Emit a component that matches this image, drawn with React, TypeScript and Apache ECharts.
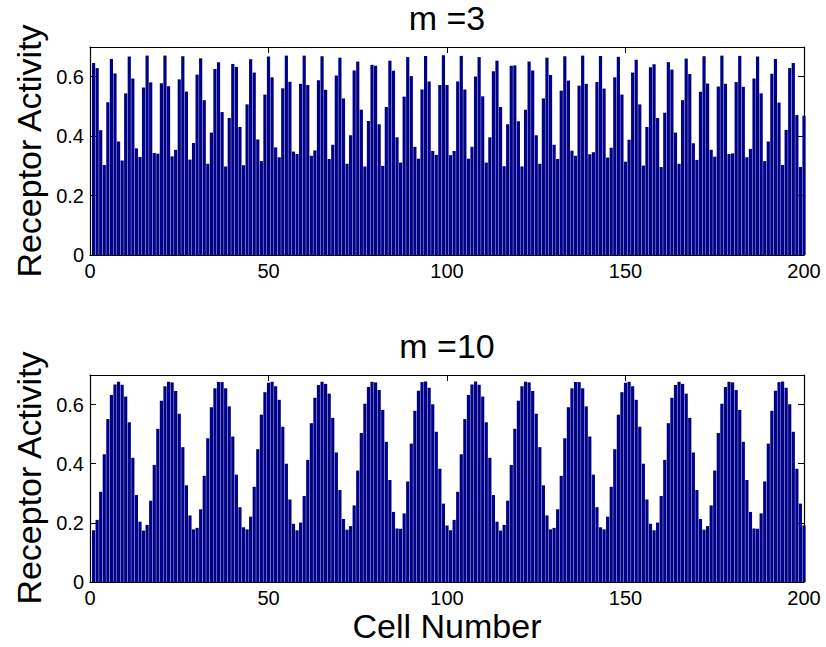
import React, { useEffect, useRef } from "react";
import * as echarts from "echarts";

// Receptor activity per cell, m = 3 (cells 1..200)
const activityM3: number[] = [
  0.646, 0.629, 0.42, 0.303, 0.514, 0.66, 0.611, 0.382, 0.318, 0.544,
  0.668, 0.594, 0.359, 0.33, 0.564, 0.671, 0.581, 0.343, 0.341, 0.578,
  0.671, 0.568, 0.332, 0.354, 0.591, 0.669, 0.55, 0.321, 0.377, 0.607,
  0.662, 0.521, 0.307, 0.412, 0.626, 0.649, 0.481, 0.298, 0.461, 0.643,
  0.633, 0.431, 0.302, 0.507, 0.659, 0.614, 0.389, 0.316, 0.54, 0.668,
  0.598, 0.362, 0.329, 0.561, 0.671, 0.583, 0.348, 0.34, 0.576, 0.671,
  0.572, 0.334, 0.352, 0.588, 0.669, 0.556, 0.323, 0.371, 0.604, 0.664,
  0.527, 0.307, 0.403, 0.621, 0.651, 0.489, 0.298, 0.451, 0.64, 0.637,
  0.44, 0.3, 0.498, 0.654, 0.62, 0.396, 0.311, 0.533, 0.666, 0.602,
  0.364, 0.324, 0.557, 0.67, 0.584, 0.35, 0.337, 0.572, 0.672, 0.572,
  0.336, 0.35, 0.584, 0.67, 0.557, 0.324, 0.364, 0.601, 0.666, 0.534,
  0.311, 0.396, 0.618, 0.654, 0.498, 0.299, 0.44, 0.637, 0.638, 0.45,
  0.298, 0.489, 0.651, 0.621, 0.403, 0.307, 0.527, 0.664, 0.606, 0.371,
  0.323, 0.553, 0.669, 0.587, 0.351, 0.334, 0.57, 0.671, 0.576, 0.339,
  0.346, 0.582, 0.67, 0.56, 0.328, 0.361, 0.598, 0.667, 0.54, 0.314,
  0.388, 0.614, 0.657, 0.507, 0.301, 0.431, 0.632, 0.642, 0.461, 0.296,
  0.479, 0.649, 0.624, 0.412, 0.307, 0.521, 0.661, 0.609, 0.376, 0.32,
  0.549, 0.669, 0.577, 0.354, 0.331, 0.567, 0.671, 0.576, 0.34, 0.342,
  0.582, 0.67, 0.566, 0.329, 0.357, 0.594, 0.668, 0.544, 0.316, 0.382,
  0.61, 0.66, 0.513, 0.303, 0.421, 0.629, 0.646, 0.471, 0.296, 0.469,
];

// Receptor activity per cell, m = 10 (cells 1..200)
const activityM10: number[] = [
  0.175, 0.21, 0.305, 0.432, 0.551, 0.632, 0.668, 0.677, 0.667, 0.627,
  0.54, 0.42, 0.294, 0.204, 0.174, 0.193, 0.275, 0.396, 0.518, 0.613,
  0.662, 0.677, 0.675, 0.646, 0.569, 0.456, 0.327, 0.225, 0.178, 0.183,
  0.246, 0.359, 0.486, 0.591, 0.655, 0.676, 0.676, 0.655, 0.594, 0.492,
  0.363, 0.253, 0.185, 0.178, 0.221, 0.322, 0.449, 0.566, 0.642, 0.674,
  0.677, 0.662, 0.616, 0.525, 0.4, 0.279, 0.197, 0.175, 0.201, 0.291,
  0.413, 0.537, 0.623, 0.666, 0.677, 0.67, 0.637, 0.555, 0.438, 0.311,
  0.213, 0.177, 0.189, 0.259, 0.377, 0.504, 0.603, 0.659, 0.677, 0.675,
  0.649, 0.582, 0.474, 0.345, 0.237, 0.181, 0.18, 0.232, 0.34, 0.468,
  0.579, 0.647, 0.676, 0.678, 0.657, 0.601, 0.508, 0.383, 0.265, 0.191,
  0.175, 0.21, 0.305, 0.432, 0.551, 0.632, 0.668, 0.678, 0.667, 0.627,
  0.54, 0.42, 0.294, 0.204, 0.174, 0.193, 0.275, 0.396, 0.518, 0.613,
  0.662, 0.677, 0.675, 0.646, 0.569, 0.456, 0.327, 0.225, 0.178, 0.183,
  0.246, 0.359, 0.486, 0.591, 0.655, 0.676, 0.676, 0.655, 0.594, 0.492,
  0.363, 0.253, 0.185, 0.178, 0.221, 0.322, 0.449, 0.566, 0.642, 0.674,
  0.677, 0.662, 0.616, 0.525, 0.4, 0.279, 0.197, 0.175, 0.201, 0.291,
  0.413, 0.537, 0.623, 0.666, 0.677, 0.67, 0.637, 0.555, 0.438, 0.311,
  0.213, 0.177, 0.189, 0.259, 0.377, 0.504, 0.603, 0.659, 0.677, 0.675,
  0.649, 0.582, 0.474, 0.345, 0.237, 0.181, 0.18, 0.232, 0.34, 0.468,
  0.579, 0.647, 0.676, 0.678, 0.657, 0.601, 0.508, 0.383, 0.265, 0.191,
];

const titles = ["m =3", "m =10"];
const yLabel = "Receptor Activity";
const xLabel = "Cell Number";
const xTicks = { min: 0, max: 200, interval: 50 };
const yTicks = { min: 0, max: 0.7, interval: 0.2 };

const FONT = "'Liberation Sans', Arial, Helvetica, sans-serif";
const BAR = "#000088";

export default function App() {
  const ref = useRef<HTMLDivElement>(null);

  useEffect(() => {
    if (!ref.current) return;
    const chart = echarts.init(ref.current, undefined, { renderer: "svg" });

    const grids = [
      { left: 90, top: 47, width: 714, height: 208 },
      { left: 90, top: 375, width: 714, height: 207 },
    ];

    const tickStyle = {
      show: true,
      inside: true,
      length: 6,
      lineStyle: { color: "#000", width: 1 },
    };
    const lineStyle = { show: true, lineStyle: { color: "#000", width: 1.2 } };

    const xAxes: any[] = [];
    const yAxes: any[] = [];
    grids.forEach((_, g) => {
      xAxes.push({
        type: "value",
        gridIndex: g,
        position: "bottom",
        min: xTicks.min,
        max: xTicks.max,
        interval: xTicks.interval,
        axisLine: { ...lineStyle, onZero: false },
        axisTick: tickStyle,
        splitLine: { show: false },
        axisLabel: {
          show: true,
          fontSize: 20,
          fontFamily: FONT,
          color: "#000",
          margin: 6,
          lineHeight: 20,
        },
      });
      xAxes.push({
        type: "value",
        gridIndex: g,
        position: "top",
        min: xTicks.min,
        max: xTicks.max,
        interval: xTicks.interval,
        axisLine: { ...lineStyle, onZero: false },
        axisTick: tickStyle,
        splitLine: { show: false },
        axisLabel: { show: false },
      });
      yAxes.push({
        type: "value",
        gridIndex: g,
        position: "left",
        min: yTicks.min,
        max: yTicks.max,
        interval: yTicks.interval,
        axisLine: { ...lineStyle, onZero: false },
        axisTick: tickStyle,
        splitLine: { show: false },
        axisLabel: {
          show: true,
          fontSize: 20,
          fontFamily: FONT,
          color: "#000",
          margin: 6,
          formatter: (v: number) =>
            v > 0.65 ? "" : v === 0 ? "0" : v.toFixed(1),
        },
      });
      yAxes.push({
        type: "value",
        gridIndex: g,
        position: "right",
        min: yTicks.min,
        max: yTicks.max,
        interval: yTicks.interval,
        axisLine: { ...lineStyle, onZero: false },
        axisTick: tickStyle,
        splitLine: { show: false },
        axisLabel: { show: false },
      });
    });

    const datasets = [activityM3, activityM10];
    const series = datasets.map((arr, g) => ({
      type: "bar",
      xAxisIndex: g * 2,
      yAxisIndex: g * 2,
      barWidth: 3.2,
      clip: true,
      itemStyle: { color: BAR },
      data: arr.map((v, i) => [i + 1, v]),
    }));

    const bigFont = `34px ${FONT}`;
    const mk = (text: string, x: number, y: number, rotated = false) => ({
      type: "text",
      x,
      y,
      rotation: rotated ? Math.PI / 2 : 0,
      style: {
        text,
        font: bigFont,
        lineHeight: 26,
        fill: "#000",
        textAlign: "center",
        textVerticalAlign: "middle",
      },
    });
    const graphic: any[] = [
      mk(titles[0], 447, 18),
      mk(titles[1], 447, 346),
      mk(yLabel, 29, 151, true),
      mk(yLabel, 29, 478, true),
      mk(xLabel, 447, 626),
    ];

    chart.setOption({
      animation: false,
      backgroundColor: "#fff",
      grid: grids.map((g) => ({ ...g, containLabel: false })),
      xAxis: xAxes,
      yAxis: yAxes,
      series,
      graphic,
    });

    return () => chart.dispose();
  }, []);

  return (
    <div
      ref={ref}
      style={{ position: "absolute", left: 0, top: 0, width: 826, height: 647 }}
    />
  );
}
